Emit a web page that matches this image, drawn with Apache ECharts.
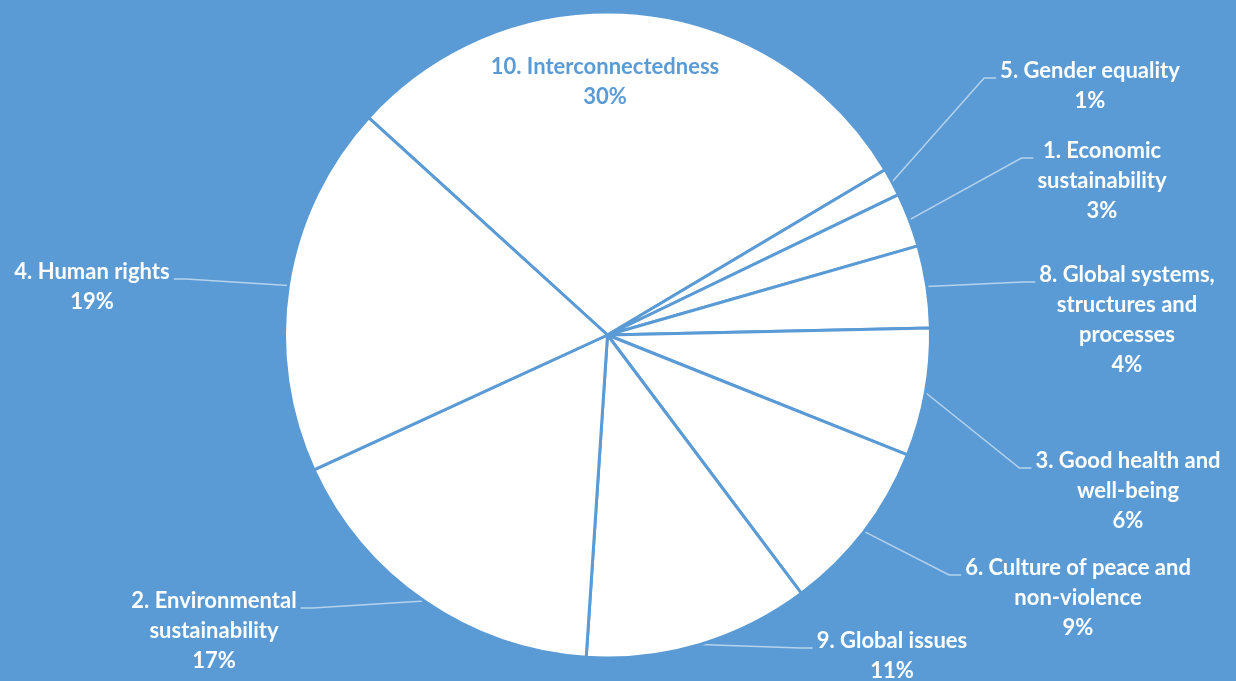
<!DOCTYPE html>
<html>
<head>
<meta charset="utf-8">
<script src="https://cdn.jsdelivr.net/npm/echarts@6/dist/echarts.min.js"></script>
<style>
  html, body { margin: 0; padding: 0; background: #5b9bd5; }
  #chart { width: 1236px; height: 681px; }
</style>
</head>
<body>
<div id="chart"></div>
<script>
// data, clockwise from the upper-left edge of the big slice
const categories = [
  "10. Interconnectedness",
  "5. Gender equality",
  "1. Economic sustainability",
  "8. Global systems, structures and processes",
  "3. Good health and well-being",
  "6. Culture of peace and non-violence",
  "9. Global issues",
  "2. Environmental sustainability",
  "4. Human rights"
];
const shares = [29.7, 1.4, 2.7, 4.1, 6.4, 8.7, 11.3, 17.1, 18.6];
// how each label wraps
const labelText = [
  "10. Interconnectedness",
  "5. Gender equality",
  "1. Economic\nsustainability",
  "8. Global systems,\nstructures and\nprocesses",
  "3. Good health and\nwell-being",
  "6. Culture of peace and\nnon-violence",
  "9. Global issues",
  "2. Environmental\nsustainability",
  "4. Human rights"
];

// label spots: centre x, first line y (layout only)
const labelSpots = [
  [605, 67], [1090, 71], [1102, 151], [1127, 275], [1128, 461],
  [1078, 568], [892, 641], [214, 601], [92, 272]
];

const blue = "#5b9bd5";
const chart = echarts.init(document.getElementById("chart"));

chart.setOption({
  backgroundColor: blue,
  animation: false,
  series: [{
    type: "pie",
    center: [607.5, 335],
    radius: [0, 323],
    startAngle: 137.7,
    clockwise: true,
    avoidLabelOverlap: false,
    itemStyle: { color: "#ffffff", borderColor: blue, borderWidth: 3 },
    label: {
      show: true,
      position: "outside",
      color: "#ffffff",
      fontFamily: "Lato",
      fontWeight: "bold",
      fontSize: 22,
      lineHeight: 30,
      align: "center",
      formatter: p => labelText[p.dataIndex] + "\n" + Math.round(p.percent) + "%"
    },
    labelLine: {
      show: true,
      lineStyle: { color: "rgba(255,255,255,0.55)", width: 1.5 }
    },
    labelLayout: function (p) {
      const s = labelSpots[p.dataIndex];
      const w = p.labelRect.width;
      const res = { x: s[0], y: s[1] - 15, align: "center", verticalAlign: "top" };
      if (p.dataIndex === 0) {
        return res;
      }
      const p0 = p.labelLinePoints[0];
      const right = s[0] > 607;
      const edge = right ? s[0] - w / 2 - 4 : s[0] + w / 2 + 4;
      const bend = right ? edge - 12 : edge + 12;
      res.labelLinePoints = [p0, [bend, s[1] + 7], [edge, s[1] + 7]];
      return res;
    },
    data: categories.map((c, i) => ({
      name: c,
      value: shares[i],
      label: i === 0 ? { color: blue } : undefined,
      labelLine: i === 0 ? { show: false } : undefined
    }))
  }]
});
</script>
</body>
</html>
